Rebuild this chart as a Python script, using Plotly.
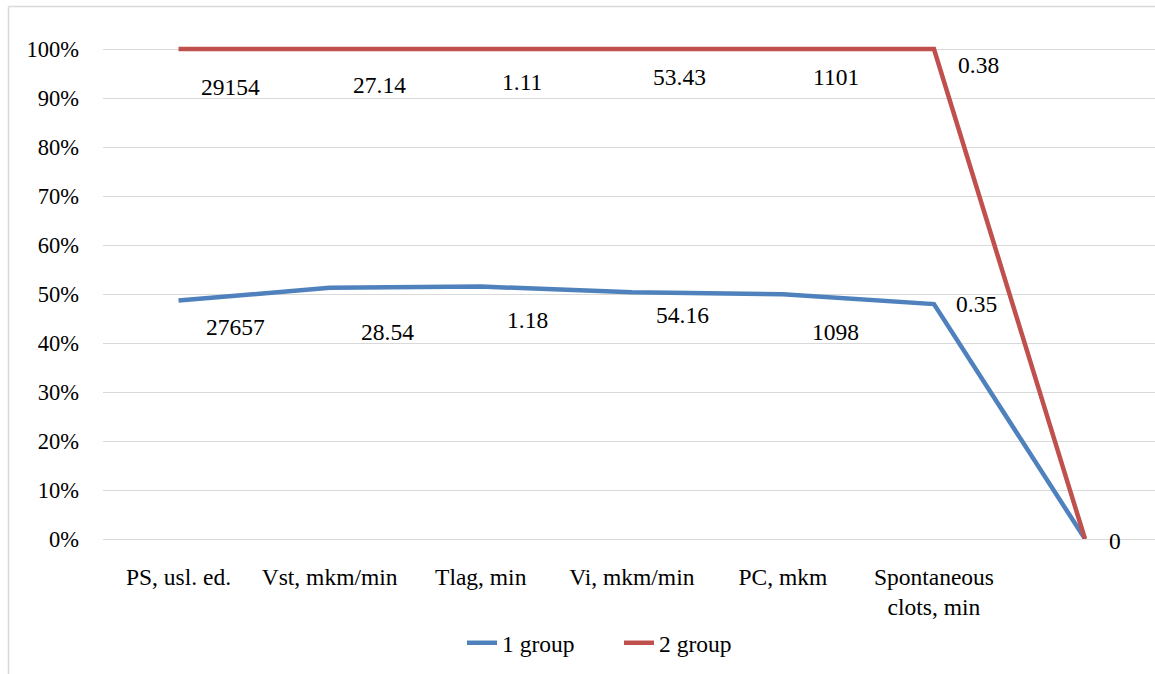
import numpy as np
import plotly.graph_objects as go

# ---- data ----
categories = ["PS, usl. ed.", "Vst, mkm/min", "Tlag, min", "Vi, mkm/min",
              "PC, mkm", "Spontaneous<br>clots, min", " "]
group1 = [27657, 28.54, 1.18, 54.16, 1098, 0.35, 0]
group2 = [29154, 27.14, 1.11, 53.43, 1101, 0.38, 0]
group1_labels = ["27657", "28.54", "1.18", "54.16", "1098", "0.35", "0"]
group2_labels = ["29154", "27.14", "1.11", "53.43", "1101", "0.38", ""]
y_ticks = [0, 0.1, 0.2, 0.3, 0.4, 0.5, 0.6, 0.7, 0.8, 0.9, 1.0]
y_ticktext = [f"{int(round(v*100))}%" for v in y_ticks]

# ---- stacked 100% (as in the source chart) ----
g1 = np.array(group1, dtype=float)
g2 = np.array(group2, dtype=float)
tot = g1 + g2
share1 = np.where(tot > 0, g1 / np.where(tot > 0, tot, 1), 0.0)
share12 = np.where(tot > 0, (g1 + g2) / np.where(tot > 0, tot, 1), 0.0)

# ---- style ----
W, H = 1155, 674
ML, MR, MT, MB = 103, 0, 0, 135
PW, PH = W - ML - MR, H - MT - MB
BLUE, RED = "#4F81BD", "#C0504D"
GRID = "#d9d9d9"
FONT = "Liberation Serif"
FS = 23.5
FS_Y = 22.5
# label offsets (px) : (dx, dy downward)
off1 = [(57, 27), (58, 44), (47, 33), (51, 23), (53, 38), (43, 0), (30, 2)]
off2 = [(52, 38), (50, 36), (41, 33), (48, 28), (53, 28), (45, 16), None]

fig = go.Figure()
fig.add_trace(go.Scatter(x=categories, y=share1, mode="lines", name="1 group",
                         line=dict(color=BLUE, width=4.5), hoverinfo="skip"))
fig.add_trace(go.Scatter(x=categories, y=share12, mode="lines", name="2 group",
                         line=dict(color=RED, width=4.5), hoverinfo="skip"))

ann = []
for i, c in enumerate(categories):
    if off1[i] is not None:
        dx, dy = off1[i]
        ann.append(dict(x=c, y=share1[i], text=group1_labels[i], showarrow=False,
                        xshift=dx, yshift=-dy, xanchor="center", yanchor="middle",
                        font=dict(family=FONT, size=FS, color="black")))
    if off2[i] is not None:
        dx, dy = off2[i]
        ann.append(dict(x=c, y=share12[i], text=group2_labels[i], showarrow=False,
                        xshift=dx, yshift=-dy, xanchor="center", yanchor="middle",
                        font=dict(family=FONT, size=FS, color="black")))

def px2x(px):
    return (px - ML) / PW

def py2y(py):
    return (H - MB - py) / PH

shapes = [
    dict(type="line", xref="paper", yref="paper", x0=px2x(8.5), x1=px2x(8.5),
         y0=py2y(6.5), y1=py2y(H + 2), line=dict(color=GRID, width=1.5)),
    dict(type="line", xref="paper", yref="paper", x0=px2x(8.5), x1=px2x(W + 2),
         y0=py2y(6.5), y1=py2y(6.5), line=dict(color=GRID, width=1.5)),
]

fig.update_layout(
    width=W, height=H,
    margin=dict(l=ML, r=MR, t=MT, b=MB, pad=0),
    paper_bgcolor="white", plot_bgcolor="white",
    font=dict(family=FONT, size=FS, color="black"),
    showlegend=True,
    legend=dict(orientation="h", x=px2x(462), y=py2y(643), xanchor="left",
                yanchor="middle", font=dict(family=FONT, size=FS, color="black"),
                bgcolor="rgba(0,0,0,0)", entrywidth=112, entrywidthmode="pixels"),
    annotations=ann,
    shapes=shapes,
    xaxis=dict(type="category", categoryorder="array", categoryarray=categories,
               range=[-0.5, (W - 178) / ((1085 - 178) / 6)],
               showgrid=False, zeroline=False, showline=False, ticks="",
               ticklabelstandoff=21, tickfont=dict(family=FONT, size=FS, color="black")),
    yaxis=dict(range=[0, 1.1], tickvals=y_ticks, ticktext=y_ticktext,
               showgrid=True, gridcolor=GRID, gridwidth=1.3, zeroline=True,
               zerolinecolor=GRID, zerolinewidth=1.3, showline=False, ticks="",
               ticklabelstandoff=23, tickfont=dict(family=FONT, size=FS_Y, color="black")),
)

fig.write_html("out.html", config={"displayModeBar": False},
               post_script="document.body.style.margin='0';document.body.style.padding='0';")
